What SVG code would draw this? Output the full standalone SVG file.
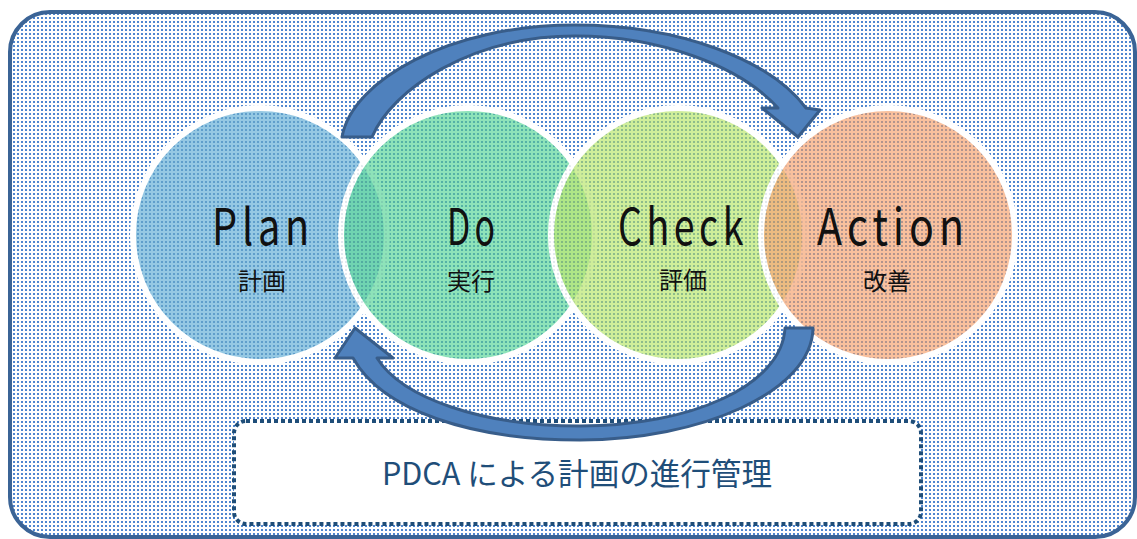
<svg xmlns="http://www.w3.org/2000/svg" width="1137" height="539" viewBox="0 0 1137 539">
<style>
.circ{stroke:#ffffff;stroke-width:6;}
.lbl{fill:#111;text-anchor:middle;}
.big{font-family:"Noto Sans CJK JP","Liberation Sans",sans-serif;font-size:50px;font-weight:400;letter-spacing:6px;}
.sub{font-family:"Noto Sans CJK JP","Liberation Sans",sans-serif;font-size:24px;font-weight:400;}
.arrow{fill:#4F81BD;stroke:#385D8A;stroke-width:3;stroke-linejoin:round;}
</style>
<defs>
<pattern id="bgdots" width="4" height="4" patternUnits="userSpaceOnUse">
<rect width="4" height="4" fill="#ffffff"/>
<rect x="1" y="1" width="2" height="2" fill="#4F86D0"/>
</pattern>
<pattern id="cdots" width="4" height="4" patternUnits="userSpaceOnUse">
<rect x="1" y="1" width="2" height="2" fill="#1F4E79" opacity="0.13"/>
</pattern>
</defs>
<rect id="frame" x="10" y="12" width="1125" height="525" rx="40" ry="40" fill="url(#bgdots)" stroke="#3B6496" stroke-width="4"/>
<g id="plan">
<circle class="circ" cx="260" cy="235" r="127" fill="#72B6DA" fill-opacity="0.75"/>
</g>
<g id="do">
<circle class="circ" cx="468" cy="235" r="127" fill="#62D89E" fill-opacity="0.72"/>
</g>
<g id="check">
<circle class="circ" cx="678" cy="235" r="127" fill="#BDE873" fill-opacity="0.72"/>
</g>
<g id="action">
<circle class="circ" cx="888" cy="235" r="127" fill="#F6A877" fill-opacity="0.72"/>
</g>
<g id="circle-texture">
<circle cx="260" cy="235" r="124" fill="url(#cdots)"/>
<circle cx="468" cy="235" r="124" fill="url(#cdots)"/>
<circle cx="678" cy="235" r="124" fill="url(#cdots)"/>
<circle cx="888" cy="235" r="124" fill="url(#cdots)"/>
</g>
<g id="labels">
<text class="lbl big" x="263" y="245" textLength="102" lengthAdjust="spacingAndGlyphs">Plan</text>
<text class="lbl sub" x="262" y="290">計画</text>
<text class="lbl big" x="473" y="245" textLength="52" lengthAdjust="spacingAndGlyphs">Do</text>
<text class="lbl sub" x="471" y="290">実行</text>
<text class="lbl big" x="683" y="245" textLength="130" lengthAdjust="spacingAndGlyphs">Check</text>
<text class="lbl sub" x="683" y="289">評価</text>
<text class="lbl big" x="893" y="245" textLength="152" lengthAdjust="spacingAndGlyphs">Action</text>
<text class="lbl sub" x="887" y="290">改善</text>
</g>
<g id="note">
<rect x="234" y="421" width="687" height="103" rx="12" ry="12" fill="#ffffff" stroke="#1F4E79" stroke-width="4" stroke-dasharray="4 3"/>
</g>
<g id="connectors">
<path class="arrow" d="M342,137 C352,80 450,25 575,25 C680,25 770,60 806,108 L820,110 L798,137 L762,108 L778,108 C740,66 660,36 575,36 C470,36 392,90 372,137 Z"/>
<path class="arrow" d="M813,328 C812,392 700,440 580,440 C470,440 382,410 353,358 L335,358 L355,328 L393,358 L377,358 C402,398 482,426 580,426 C690,426 782,386 785,328 Z"/>
</g>
<text x="577" y="485" font-family="'Noto Sans CJK JP','Liberation Sans',sans-serif" font-size="31" font-weight="400" fill="#1F4E79" text-anchor="middle" textLength="390" lengthAdjust="spacingAndGlyphs">PDCA による計画の進行管理</text>
</svg>
